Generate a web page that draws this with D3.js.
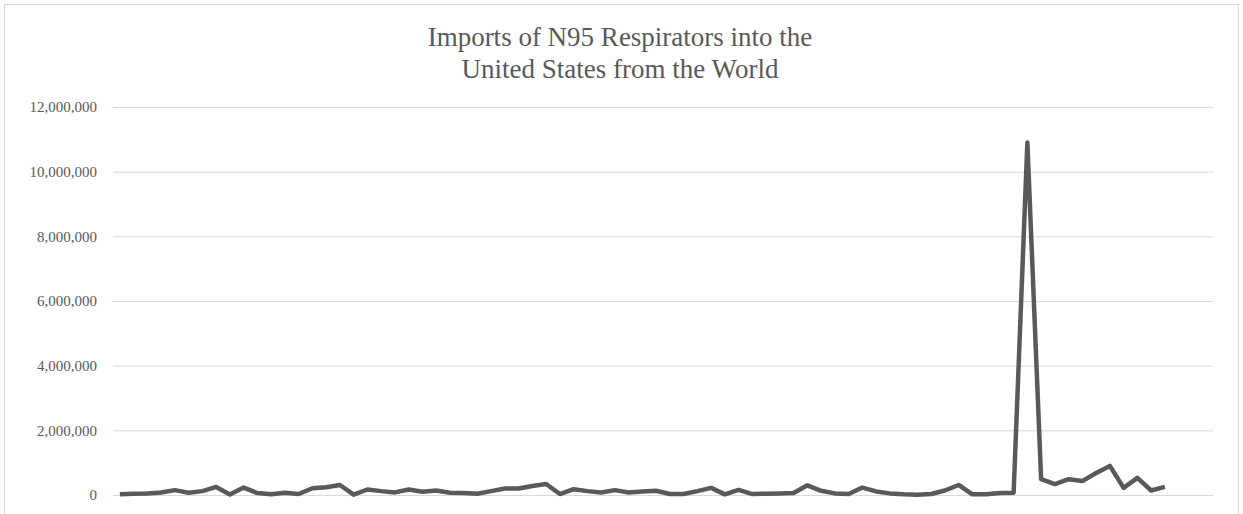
<html>
<head>
    <script src="https://d3js.org/d3.v7.min.js"></script>
    <style>
        body { margin: 0; background: white; }
        .gridlines line { stroke: #d9d9d9; }
        .gridlines .domain { stroke: none; }
        .yaxis .domain, .yaxis line { stroke: none; }
        .yaxis text { font-family: "Liberation Serif", serif; font-size: 15px; fill: #595959; }
    </style>
</head>
<body>
    <svg id="plot" height="514" width="1243"></svg>
    <script>
        // title lines
        const titleLines = ["Imports of N95 Respirators into the", "United States from the World"];

        // monthly categories (80 slots on the axis, 77 with data)
        const months = d3.range(80).map(i => d3.timeFormat("%b %Y")(new Date(2014, 8 + i, 1)));

        // imports, units
        const imports = [
            20000, 40000, 50000, 80000, 150000, 70000, 120000, 250000, 15000, 230000,
            60000, 20000, 70000, 30000, 210000, 240000, 310000, 10000, 170000, 120000,
            80000, 170000, 100000, 140000, 70000, 60000, 40000, 120000, 200000, 200000,
            280000, 340000, 30000, 180000, 120000, 80000, 150000, 80000, 110000, 130000,
            30000, 30000, 120000, 220000, 20000, 160000, 30000, 40000, 50000, 60000,
            300000, 130000, 50000, 30000, 230000, 110000, 50000, 20000, 10000, 30000,
            140000, 310000, 20000, 20000, 60000, 70000, 10900000, 490000, 340000, 490000,
            430000, 680000, 900000, 220000, 530000, 140000, 250000
        ];

        const yTicks = [0, 2000000, 4000000, 6000000, 8000000, 10000000, 12000000];

        const svg = d3.select("#plot");
        const margin = { top: 107, right: 30, bottom: 19, left: 113 };
        const width = +svg.attr("width");
        const height = +svg.attr("height");

        // outer frame
        svg.append("rect")
            .attr("x", 4.5).attr("y", 4.5)
            .attr("width", 1234).attr("height", 540)
            .attr("fill", "white")
            .attr("stroke", "#d9d9d9")
            .attr("stroke-width", 1);

        const xScale = d3.scaleBand().domain(months).range([margin.left, width - margin.right]);
        const yScale = d3.scaleLinear().domain([0, 12000000]).range([height - margin.bottom, margin.top]);

        const yGridlines = d3.axisLeft(yScale).tickValues(yTicks).tickSize(-(width - margin.left - margin.right)).tickFormat("");
        svg.append("g").attr("class", "gridlines")
            .attr("transform", `translate(${margin.left},0)`)
            .call(yGridlines);

        const yAxis = d3.axisLeft(yScale).tickValues(yTicks).tickSize(0).tickPadding(16).tickFormat(d3.format(",d"));
        svg.append("g").attr("class", "yaxis")
            .attr("transform", `translate(${margin.left},0)`)
            .call(yAxis);

        const line = d3.line()
            .x((d, i) => xScale(months[i]) + xScale.bandwidth() / 2)
            .y(d => yScale(d));

        svg.append("path")
            .datum(imports)
            .attr("d", line)
            .attr("fill", "none")
            .attr("stroke", "#595959")
            .attr("stroke-width", 4.5)
            .attr("stroke-linejoin", "round");

        svg.append("text")
            .attr("x", 620).attr("y", 46)
            .attr("text-anchor", "middle")
            .style("font-family", "Liberation Serif, serif")
            .style("font-size", "27px")
            .style("fill", "#595959")
            .selectAll("tspan").data(titleLines)
            .join("tspan")
            .attr("x", 620)
            .attr("dy", (d, i) => i == 0 ? 0 : 32)
            .text(d => d);
    </script>
</body>
</html>
